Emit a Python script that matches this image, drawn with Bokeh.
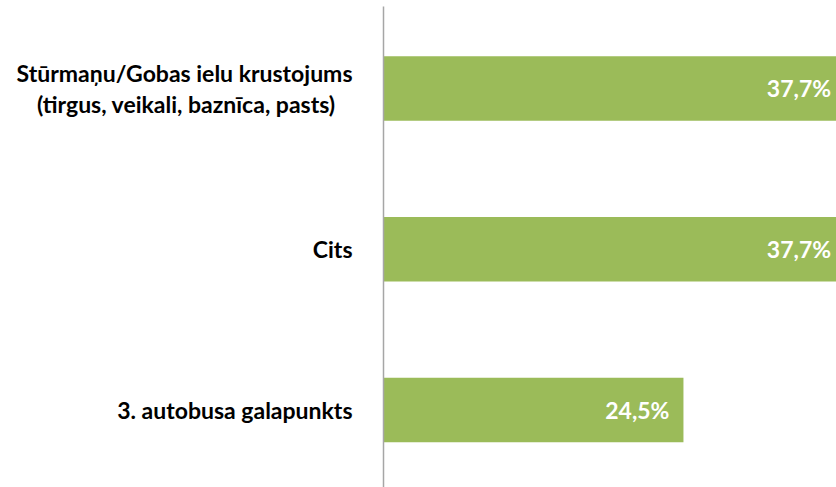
from bokeh.plotting import figure
from bokeh.models import ColumnDataSource, FixedTicker, Range1d
from bokeh.core.properties import value
from bokeh.embed import file_html
from bokeh.resources import INLINE

categories = ["3. autobusa galapunkts", "Cits",
              "Stūrmaņu/Gobas ielu krustojums\n(tirgus, veikali, baznīca, pasts)"]
values = [24.5, 37.7, 37.7]
labels = [f"{v:.1f}".replace(".", ",") + "%" for v in values]
positions = list(range(len(categories)))

src = ColumnDataSource(dict(y=positions, v=values, lab=labels))

p = figure(width=836, height=487, output_backend="svg", toolbar_location=None,
           x_range=Range1d(0, 37.0), y_range=Range1d(-0.482, 2.510),
           x_axis_location=None, min_border_left=383, min_border_right=0,
           min_border_top=6, min_border_bottom=0)
p.outline_line_color = None
p.xgrid.visible = False
p.ygrid.visible = False

p.hbar(y="y", right="v", left=0, height=0.4, source=src,
       fill_color="#9BBB59", line_color=None)
p.text(x="v", y="y", text="lab", source=src, x_offset=-14,
       text_align="right", text_baseline="middle", text_color="white",
       text_font=value("Lato"), text_font_style="bold", text_font_size="23px")


def centred(label):
    # pad the shorter second line so that it sits centred under the first
    lines = label.split("\n")
    if len(lines) == 2:
        lines[1] = lines[1] + "\u00a0" * 3
    return "\n".join(lines)


ax = p.yaxis[0]
ax.ticker = FixedTicker(ticks=positions)
ax.major_label_overrides = {i: centred(c) for i, c in enumerate(categories)}
ax.major_tick_line_color = None
ax.minor_tick_line_color = None
ax.axis_line_color = "#A6A6A6"
ax.axis_line_width = 1.5
ax.major_label_standoff = 25
ax.major_label_text_font = "Lato"
ax.major_label_text_font_style = "bold"
ax.major_label_text_font_size = "23px"
ax.major_label_text_line_height = 1.1
ax.major_label_text_color = "#000000"

open("out.html", "w").write(file_html(p, INLINE))
